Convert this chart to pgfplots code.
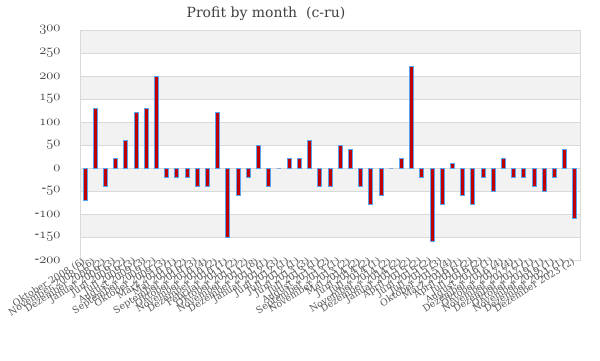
\documentclass[border=0pt]{standalone}
\usepackage{fontspec}
\setmainfont{DejaVu Serif}
\usepackage{pgfplots}
\pgfplotsset{compat=1.18}
\newcommand\osn[1]{{\usefont{OML}{cmm}{m}{it}#1}}
\definecolor{barred}{HTML}{C00000}
\definecolor{barblue}{HTML}{55A5F2}
\definecolor{band}{HTML}{F2F2F2}
\definecolor{gridc}{HTML}{D9D9D9}
\definecolor{txt}{HTML}{595959}
\definecolor{ttl}{HTML}{404040}
\begin{document}
\begin{tikzpicture}
\node[text=ttl, font=\fontsize{14}{17}\selectfont] at (266pt,346pt) {Profit by month\ \ (c-ru)};
\begin{axis}[
  set layers,
  at={(80pt,100pt)}, anchor=south west,
  scale only axis, width=500pt, height=230pt,
  xmin=0.5, xmax=49.5, ymin=-200, ymax=300,
  ytick={-200,-150,...,300},
  xtick={1,...,49},
  xticklabels={Oktober 2008 (6),November 2008 (16),Dezember 2008 (2),Januar 2009 (3),Juni 2009 (2),Juli 2009 (3),August 2009 (3),September 2009 (2),Oktober 2009 (3),M\"arz 2010 (1),Mai 2010 (2),September 2010 (3),Oktober 2010 (4),November 2010 (2),Dezember 2010 (1),Februar 2011 (2),Oktober 2011 (2),November 2011 (8),Dezember 2011 (1),Januar 2012 (3),Juni 2012 (1),Juli 2012 (1),Juni 2013 (3),Juli 2013 (1),August 2013 (2),September 2013 (1),November 2013 (2),Mai 2014 (2),Juni 2014 (2),Juli 2014 (1),November 2014 (2),Dezember 2014 (2),Januar 2015 (2),April 2015 (2),Juni 2015 (2),Juli 2015 (3),Oktober 2015 (4),M\"arz 2016 (1),April 2016 (2),Juli 2016 (2),August 2016 (1),Dezember 2016 (4),Oktober 2017 (4),November 2017 (1),Dezember 2017 (1),Oktober 2019 (1),November 2019 (1),Dezember 2021 (1),Dezember 2023 (2)},
  xticklabel style={rotate=32, anchor=east, font=\fontsize{9.5}{11}\selectfont, text=txt, inner sep=1pt},
  yticklabel={\pgfmathtruncatemacro\myv{\tick}\ifnum\myv<0 -\osn{\the\numexpr-\myv\relax}\else\osn{\myv}\fi},
  yticklabel style={font=\fontsize{14}{16}\selectfont, text=ttl, xshift=-16pt},
  major tick length=0pt,
  ymajorgrids, grid style={gridc, line width=1pt},
  axis line style={gridc, line width=1pt},
]
\addplot[fill=band, draw=none, forget plot, on layer=axis background] coordinates {(0.5,250) (49.5,250) (49.5,300) (0.5,300)} -- cycle;
\addplot[fill=band, draw=none, forget plot, on layer=axis background] coordinates {(0.5,150) (49.5,150) (49.5,200) (0.5,200)} -- cycle;
\addplot[fill=band, draw=none, forget plot, on layer=axis background] coordinates {(0.5,50) (49.5,50) (49.5,100) (0.5,100)} -- cycle;
\addplot[fill=band, draw=none, forget plot, on layer=axis background] coordinates {(0.5,-50) (49.5,-50) (49.5,0) (0.5,0)} -- cycle;
\addplot[fill=band, draw=none, forget plot, on layer=axis background] coordinates {(0.5,-150) (49.5,-150) (49.5,-100) (0.5,-100)} -- cycle;
\addplot[ybar, bar width=4pt, fill=barred, draw=barblue, line width=1pt] coordinates {
(1,-70) (2,130) (3,-40) (4,20) (5,60) (6,120) (7,130) (8,200) (9,-20) (10,-20)
(11,-20) (12,-40) (13,-40) (14,120) (15,-150) (16,-60) (17,-20) (18,50) (19,-40) (20,0)
(21,20) (22,20) (23,60) (24,-40) (25,-40) (26,50) (27,40) (28,-40) (29,-80) (30,-60)
(31,0) (32,20) (33,220) (34,-20) (35,-160) (36,-80) (37,10) (38,-60) (39,-80) (40,-20)
(41,-50) (42,20) (43,-20) (44,-20) (45,-40) (46,-50) (47,-20) (48,40) (49,-110)
};
\end{axis}
\pgfresetboundingbox
\path[use as bounding box] (0pt,0pt) rectangle (600pt,360pt);
\end{tikzpicture}
\end{document}
